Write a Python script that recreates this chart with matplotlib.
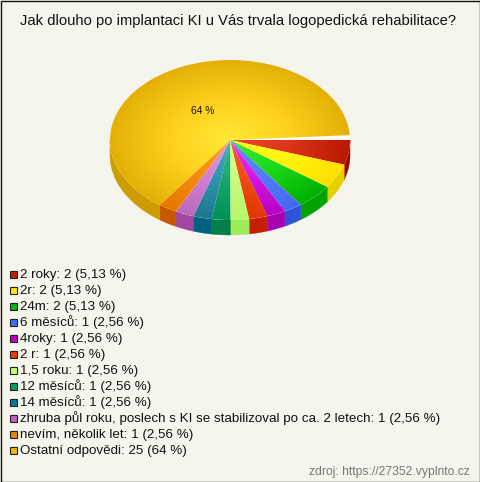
import numpy as np
import matplotlib
matplotlib.use("Agg")
import matplotlib.pyplot as plt
from matplotlib.path import Path
from matplotlib.patches import PathPatch, Rectangle, Ellipse
from matplotlib.colors import LinearSegmentedColormap

title = "Jak dlouho po implantaci KI u Vás trvala logopedická rehabilitace?"
labels = ["2 roky", "2r", "24m", "6 měsíců", "4roky", "2 r", "1,5 roku", "12 měsíců",
          "14 měsíců", "zhruba půl roku, poslech s KI se stabilizoval po ca. 2 letech",
          "nevím, několik let", "Ostatní odpovědi"]
values = [2, 2, 2, 1, 1, 1, 1, 1, 1, 1, 1, 25]
percents = ["5,13", "5,13", "5,13", "2,56", "2,56", "2,56", "2,56", "2,56", "2,56", "2,56", "2,56", "64"]
legend_cols = ["#C02000", "#FFE800", "#00B800", "#4070F0", "#C000C8", "#E84000", "#C8FF70",
               "#00A060", "#007A9A", "#C060C0", "#F08000", "#F0B800"]
center_cols = ["#EC4A2C", "#FFFF20", "#38F038", "#6488FF", "#EC30FF", "#FF5A20", "#D8FF90",
               "#30C080", "#48A8C8", "#E898E8", "#FFA020", "#FFEA36"]
mid_cols = ["#DC3418", "#FFF410", "#1CD81C", "#547CF8", "#D418E0", "#F04A10", "#C8FC80",
            "#18A86C", "#3094AC", "#D080D2", "#F48C10", "#FFD01E"]
edge_cols = ["#B81800", "#FFE000", "#00B000", "#4468F0", "#B800C0", "#E03800", "#B8F868",
             "#009058", "#1C7890", "#BC68BC", "#E87800", "#E4B006"]
side_cols = ["#A00000", "#E6CF00", "#00A400", "#2E52D8", "#A800B0", "#C42000", "#A0EC58",
             "#008048", "#006080", "#A048A0", "#C85800", "#CC9C00"]
share_label = "64 %"
source = "zdroj: https://27352.vyplnto.cz"

BG = "#F5F5ED"
W, H = 480, 482
CX, CY, RX, RY, DEPTH = 230, 140, 120, 80, 15
SMALL_SQUEEZE = 0.973

fig = plt.figure(figsize=(W / 100, H / 100), dpi=100, facecolor=BG)
ax = fig.add_axes([0, 0, 1, 1])
ax.set_xlim(0, W)
ax.set_ylim(H, 0)
ax.axis("off")
ax.add_patch(Rectangle((0.5, 0.5), W - 1, H - 1, fc=BG, ec="#111111", lw=1.0, zorder=0))

vals = np.array(values, dtype=float)
edges = np.concatenate([[0], np.cumsum(vals)]) / vals.sum() * 360
edges[:-1] *= SMALL_SQUEEZE
edges[-1] = edges[-2] + vals[-1] / vals.sum() * 360


def arc(a0, a1, n=80, dy=0.0):
    t = np.radians(np.linspace(a0, a1, n))
    return np.column_stack([CX + RX * np.cos(t), CY + dy + RY * np.sin(t)])


# sides
for i in range(len(vals)):
    a0, a1 = edges[i], min(edges[i + 1], 180)
    if a0 >= 180:
        continue
    pts = np.vstack([arc(a0, a1), arc(a0, a1, dy=DEPTH)[::-1]])
    ax.fill(pts[:, 0], pts[:, 1], fc=side_cols[i], ec=side_cols[i], lw=0.3, zorder=2)

# pale rim showing in the gap left by the largest slice
ax.add_patch(Ellipse((CX, CY), 2 * RX, 2 * RY, fc="#FDFDF8", ec="none", zorder=2.5))

# top faces with radial gradient
yy, xx = np.mgrid[0:H * 2, 0:W * 2] / 2.0
rr = np.hypot((xx - CX) / RX, (yy - CY) / RY)
for i in range(len(vals)):
    cmap = LinearSegmentedColormap.from_list("c", [center_cols[i], mid_cols[i], edge_cols[i]])
    pts = np.vstack([[CX, CY], arc(edges[i], edges[i + 1], 160), [CX, CY]])
    im = ax.imshow(np.clip(rr, 0, 1), cmap=cmap, vmin=0, vmax=1, extent=(0, W, H, 0),
                   zorder=3, interpolation="bilinear", aspect="auto")
    im.set_clip_path(PathPatch(Path(pts), transform=ax.transData))
ax.set_xlim(0, W)
ax.set_ylim(H, 0)

font = "Liberation Sans"
ax.text(237.5, 25, title, ha="center", va="baseline", fontsize=10.6, family=font, color="#111111", zorder=5)
ax.text(202.5, 114, share_label, ha="center", va="baseline", fontsize=7.4, family=font, color="#111111", zorder=5)

for i, (lab, v, p) in enumerate(zip(labels, values, percents)):
    ax.add_patch(Rectangle((9.5, 270.5 + 16 * i), 7, 7, fc=legend_cols[i], ec="#222222", lw=0.8, zorder=5))
    ax.text(20, 278.3 + 16 * i, f"{lab}: {v} ({p} %)", ha="left", va="baseline", fontsize=9.62, family=font,
            color="#111111", zorder=5)

ax.text(470, 474.5, source, ha="right", va="baseline", fontsize=8.75, family=font, color="#777777", zorder=5)

fig.savefig("out.png", dpi=100, facecolor=BG)
